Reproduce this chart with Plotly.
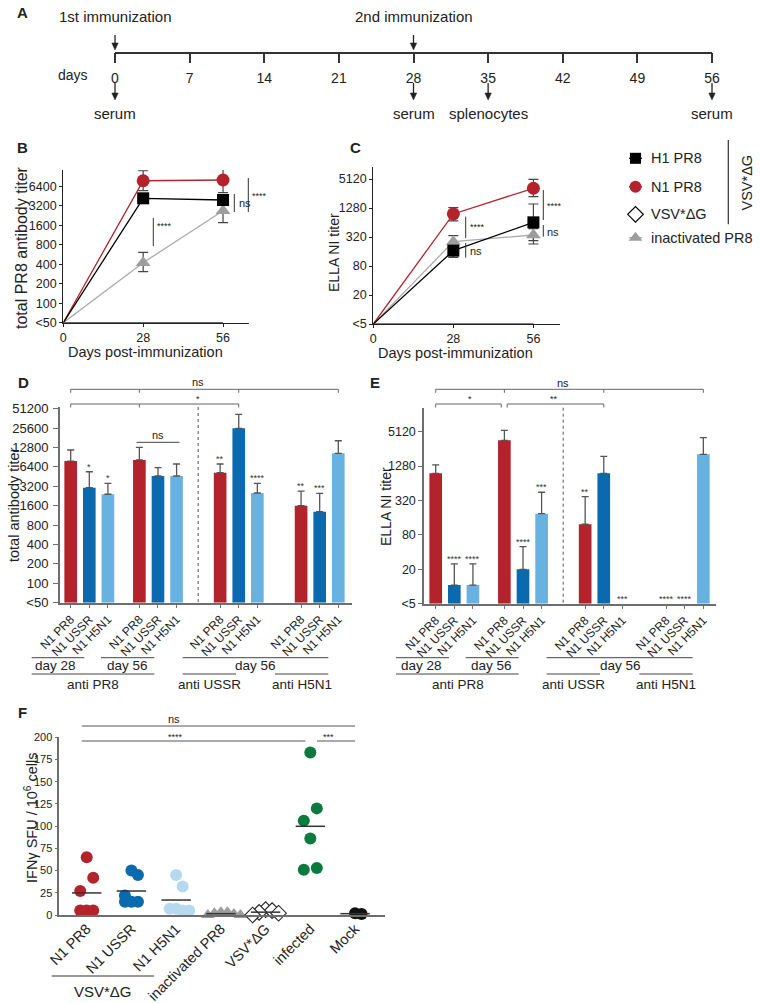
import numpy as np
import plotly.graph_objects as go

W, H = 760, 1003
FONT = "Liberation Sans, Arial, Helvetica, sans-serif"


def px(x):
    return x / W


def py(y):
    return 1 - y / H


RED = "#B2232B"
BLUE = "#0B6AAE"
LBLUE = "#68B2E2"
PALE = "#B8D8F0"
GREEN = "#0B7A3E"
GREY = "#9D9D9D"
INK = "#222222"
AXG = "#6E6E6E"
SIG = "#4A4A4A"

# ======================= DATA =======================
# A: timeline
timeline_days = [0, 7, 14, 21, 28, 35, 42, 49, 56]
immunization_days = [0, 28]
immunization_labels = ["1st immunization", "2nd immunization"]
sample_days = [0, 28, 35, 56]
sample_labels = ["serum", "serum", "splenocytes", "serum"]

# B / C: kinetics
days = [0, 28, 56]
series_names = ["H1 PR8", "N1 PR8", "VSV*ΔG", "inactivated PR8"]

b_h1 = [50, 4160, 3920]
b_n1 = [50, 7770, 7970]
b_vsv = [50, 50, 50]
b_inact = [50, 422, 2680]
b_h1_hi = [None, None, None]
b_h1_lo = [None, None, None]
b_n1_hi = [None, 11080, 12500]
b_n1_lo = [None, 5450, 5080]
b_vsv_hi = [None, None, None]
b_vsv_lo = [None, None, None]
b_inact_hi = [None, 611, 4100]
b_inact_lo = [None, 307, 1750]
b_ticks = [50, 100, 200, 400, 800, 1600, 3200, 6400]
b_tick_text = ["<50", "100", "200", "400", "800", "1600", "3200", "6400"]

c_h1 = [5, 167, 645]
c_n1 = [5, 963, 3290]
c_vsv = [5, 5, 5]
c_inact = [5, 256, 352]
c_h1_hi = [None, 230, 1550]
c_h1_lo = [None, 121, 270]
c_n1_hi = [None, 1300, 5050]
c_n1_lo = [None, 695, 2200]
c_vsv_hi = [None, None, None]
c_vsv_lo = [None, None, None]
c_inact_hi = [None, 341, 480]
c_inact_lo = [None, 190, 229]
c_ticks = [5, 20, 80, 320, 1280, 5120]
c_tick_text = ["<5", "20", "80", "320", "1280", "5120"]

# D / E: bar panels (4 groups x 3 antigens)
antigens = ["N1 PR8", "N1 USSR", "N1 H5N1"]
day_labels = ["day 28", "day 56", "day 56"]
target_labels = ["anti PR8", "anti USSR", "anti H5N1"]

d_pr8 = [7880, 8200, 5200, 1600]
d_ussr = [3050, 4620, 25400, 1290]
d_h5n1 = [2410, 4620, 2520, 10400]
d_pr8_err = [11700, 12900, 7100, 2700]
d_ussr_err = [5380, 6220, 41900, 2490]
d_h5n1_err = [3560, 7100, 3560, 16300]
d_pr8_sig = ["", "", "**", "**"]
d_ussr_sig = ["*", "", "", "***"]
d_h5n1_sig = ["*", "", "****", ""]
d_ticks = [50, 100, 200, 400, 800, 1600, 3200, 6400, 12800, 25600, 51200]
d_tick_text = ["<50", "100", "200", "400", "800", "1600", "3200", "6400",
               "12800", "25600", "51200"]

e_pr8 = [957, 3620, 123, 5]
e_ussr = [10.6, 20, 957, 5]
e_h5n1 = [10.6, 188, 5, 2060]
e_pr8_err = [1340, 5410, 373, None]
e_ussr_err = [24.8, 49.7, 1900, None]
e_h5n1_err = [24.8, 446, None, 4020]
e_pr8_sig = ["", "", "**", "****"]
e_ussr_sig = ["****", "****", "", "****"]
e_h5n1_sig = ["****", "***", "***", ""]
e_ticks = [5, 20, 80, 320, 1280, 5120]
e_tick_text = ["<5", "20", "80", "320", "1280", "5120"]

# F: IFNγ ELISpot
f_groups = ["N1 PR8", "N1 USSR", "N1 H5N1", "inactivated PR8", "VSV*ΔG", "infected", "Mock"]
f_n1pr8 = [65, 42, 27, 5, 5, 5]
f_n1ussr = [50, 45, 22, 15, 15, 15]
f_n1h5n1 = [45, 32, 7, 5, 5, 7]
f_inact = [3, 3, 2, 1, 0, 0]
f_vsv = [6, 5, 3, 2, 0]
f_infected = [183, 120, 106, 86, 53, 51]
f_mock = [1, 2]
f_ticks = [0, 25, 50, 75, 100, 125, 150, 175, 200]

# ======================= FIGURE =======================
fig = go.Figure()

A_X0, A_X1 = 115, 712          # page pixels of day 0 / day 56 on the timeline


def day_px(d):
    return A_X0 + d * (A_X1 - A_X0) / 56.0


def add_line(x0, y0, x1, y1, xref="paper", yref="paper", color=SIG, width=1, dash=None):
    fig.add_shape(type="line", x0=x0, y0=y0, x1=x1, y1=y1, xref=xref, yref=yref,
                  line=dict(color=color, width=width, dash=dash))


def add_text(text, x, y, size=13, xref="paper", yref="paper", xanchor="center",
             yanchor="middle", angle=0, bold=False, color=INK, yshift=0):
    if bold:
        text = "<b>%s</b>" % text
    fig.add_annotation(text=text, x=x, y=y, xref=xref, yref=yref, xanchor=xanchor,
                       yanchor=yanchor, textangle=angle, showarrow=False, yshift=yshift,
                       font=dict(size=size, color=color, family=FONT))


def add_arrow(day, y_tail, y_head):
    """vertical arrow on panel A: line + filled head"""
    xp = day_px(day)
    add_line(px(xp), py(y_tail), px(xp), py(y_head - 5), color="#222222", width=1.3)
    fig.add_shape(type="path", xref="paper", yref="paper",
                  path="M %f %f L %f %f L %f %f Z" % (px(xp - 3.2), py(y_head - 7), px(xp + 3.2),
                                                      py(y_head - 7), px(xp), py(y_head)),
                  fillcolor="#222222", line=dict(color="#222222", width=0.5))


def add_err(xa, ya, xs, v, hi, lo, color="#444444", width=5, thick=1.2):
    idx = [i for i in range(len(xs)) if hi[i] is not None or lo[i] is not None]
    if not idx:
        return
    up = [(hi[i] - v[i]) if hi[i] is not None else 0 for i in idx]
    dn = [(v[i] - lo[i]) if lo[i] is not None else 0 for i in idx]
    fig.add_trace(go.Scatter(
        x=[xs[i] for i in idx], y=[v[i] for i in idx], mode="markers",
        marker=dict(size=1, opacity=0), cliponaxis=False, hoverinfo="skip",
        error_y=dict(type="data", symmetric=False, array=up, arrayminus=dn,
                     color=color, thickness=thick, width=width),
        xaxis=xa, yaxis=ya, showlegend=False))


styles = {
    "H1 PR8": dict(marker=dict(symbol="square", size=12, color="black"),
                   line=dict(color="black", width=1.3)),
    "N1 PR8": dict(marker=dict(symbol="circle", size=13, color=RED),
                   line=dict(color=RED, width=1.3)),
    "VSV*ΔG": dict(marker=dict(symbol="diamond", size=13, color="white",
                               line=dict(color="black", width=1.2)),
                   line=dict(color="black", width=1.0)),
    "inactivated PR8": dict(marker=dict(symbol="triangle-up", size=13, color=GREY),
                            line=dict(color="#ABABAB", width=1.3)),
}

# ---------- B and C ----------
panel_bc = [
    ("x2", "y2", {"H1 PR8": (b_h1, b_h1_hi, b_h1_lo), "N1 PR8": (b_n1, b_n1_hi, b_n1_lo),
                  "VSV*ΔG": (b_vsv, b_vsv_hi, b_vsv_lo),
                  "inactivated PR8": (b_inact, b_inact_hi, b_inact_lo)}),
    ("x3", "y3", {"H1 PR8": (c_h1, c_h1_hi, c_h1_lo), "N1 PR8": (c_n1, c_n1_hi, c_n1_lo),
                  "VSV*ΔG": (c_vsv, c_vsv_hi, c_vsv_lo),
                  "inactivated PR8": (c_inact, c_inact_hi, c_inact_lo)}),
]
draw_order = ["VSV*ΔG", "inactivated PR8", "N1 PR8", "H1 PR8"]
for xa, ya, d in panel_bc:
    for name in draw_order:
        v, hi, lo = d[name]
        add_err(xa, ya, days, v, hi, lo)
    for name in draw_order:
        v, hi, lo = d[name]
        st = styles[name]
        fig.add_trace(go.Scatter(x=days, y=v, mode="lines+markers", name=name,
                                 marker=st["marker"], line=st["line"], cliponaxis=False,
                                 xaxis=xa, yaxis=ya, showlegend=False))

# ---------- D and E ----------
group_slots = [0.0, 3.69, 8.03, 12.38]
bar_colors = [RED, BLUE, LBLUE]


def pos(g, i):
    return group_slots[g] + i


panel_de = [
    ("x4", "y4", 50, [d_pr8, d_ussr, d_h5n1], [d_pr8_err, d_ussr_err, d_h5n1_err],
     [d_pr8_sig, d_ussr_sig, d_h5n1_sig]),
    ("x5", "y5", 5, [e_pr8, e_ussr, e_h5n1], [e_pr8_err, e_ussr_err, e_h5n1_err],
     [e_pr8_sig, e_ussr_sig, e_h5n1_sig]),
]
for xa, ya, base, vals, errs, sigs in panel_de:
    for i, name in enumerate(antigens):
        xs = [pos(g, i) for g in range(4)]
        fig.add_trace(go.Bar(x=xs, y=[v - base for v in vals[i]], base=base, width=0.68,
                             marker=dict(color=bar_colors[i], line=dict(width=0)),
                             name=name, xaxis=xa, yaxis=ya, showlegend=False))
    for i in range(3):
        xs = [pos(g, i) for g in range(4)]
        add_err(xa, ya, xs, vals[i], errs[i], [None] * 4, color="#555555", width=3.5, thick=1.3)
    for i in range(3):
        for g in range(4):
            if sigs[i][g]:
                top = errs[i][g] if errs[i][g] is not None else vals[i][g]
                add_text(sigs[i][g], pos(g, i), np.log10(top), size=9, xref=xa, yref=ya,
                         yanchor="bottom", color="#333333", yshift=-2)

# ---------- F ----------
f_values = [f_n1pr8, f_n1ussr, f_n1h5n1, f_inact, f_vsv, f_infected, f_mock]
f_marker = [
    dict(symbol="circle", color=RED, size=12),
    dict(symbol="circle", color=BLUE, size=12),
    dict(symbol="circle", color=PALE, size=12),
    dict(symbol="triangle-up", color=GREY, size=12),
    dict(symbol="diamond", color="white", size=12, line=dict(color="#222222", width=1.1)),
    dict(symbol="circle", color=GREEN, size=12),
    dict(symbol="circle", color="#111111", size=12),
]
F_YPX = (915 - 737.3) / 200.0   # px per unit
F_XPX = 44.7                    # px per category


def swarm(vals, step=6.5, dmin=6.0):
    order = sorted(range(len(vals)), key=lambda k: -vals[k])
    pattern = [0, 1, -1]
    cands_all = [0, 1, -1, 2, -2, 3, -3, 4, -4]
    placed, offs = [], [0.0] * len(vals)
    for r, k in enumerate(order):
        pref = pattern[r % 3]
        yo = vals[k] * F_YPX
        chosen = pref
        for c in [pref] + [c for c in cands_all if c != pref]:
            xo = c * step
            if all((xo - a) ** 2 + (yo - b) ** 2 >= dmin ** 2 for a, b in placed):
                chosen = c
                break
        placed.append((chosen * step, yo))
        offs[k] = chosen * step / F_XPX
    return offs


for gi, vals in enumerate(f_values):
    offs = swarm(vals)
    fig.add_trace(go.Scatter(x=[gi + o for o in offs], y=vals, mode="markers",
                             marker=f_marker[gi], cliponaxis=False, name=f_groups[gi],
                             xaxis="x6", yaxis="y6", showlegend=False))
fig.add_trace(go.Scatter(x=list(range(len(f_values))), y=[float(np.mean(v)) for v in f_values],
                         mode="markers", cliponaxis=False, hoverinfo="skip",
                         marker=dict(symbol="line-ew", size=21, line=dict(color="#333333", width=1.5)),
                         xaxis="x6", yaxis="y6", showlegend=False))

# ---------- Legend (manual, on a page-pixel helper axis) ----------
legend_rows = [158.3, 186.7, 214.3, 237.7]
for name, ry in zip(series_names, legend_rows):
    st = styles[name]
    fig.add_trace(go.Scatter(x=[629, 642], y=[ry, ry], mode="lines",
                             line=dict(color=st["line"]["color"], width=1.3),
                             xaxis="x7", yaxis="y7", showlegend=False, hoverinfo="skip",
                             cliponaxis=False))
    mk = dict(st["marker"])
    mk["size"] = mk["size"] - 1
    fig.add_trace(go.Scatter(x=[635.5], y=[ry], mode="markers", marker=mk,
                             xaxis="x7", yaxis="y7", showlegend=False, hoverinfo="skip",
                             cliponaxis=False))
    add_text(name, px(649), py(ry), size=14.5, xanchor="left")
add_line(px(728.3), py(140), px(728.3), py(224.3), color="#333333", width=1.2)
add_text("VSV*ΔG", px(747), py(182.5), size=14.5, angle=-90)

# ======================= AXES =======================


def axis(**kw):
    d = dict(showgrid=False, zeroline=False, showline=True, linecolor=INK, linewidth=1.3,
             ticks="outside", ticklen=3, tickwidth=1.2, tickcolor=INK, automargin=False,
             tickfont=dict(size=12.5, color=INK, family=FONT), fixedrange=True)
    d.update(kw)
    return d


def hidden(**kw):
    d = dict(visible=False, fixedrange=True, automargin=False, showgrid=False, zeroline=False)
    d.update(kw)
    return d


lay = dict(
    xaxis=axis(domain=[px(A_X0), px(A_X1)], range=[0, 56], anchor="y", tickvals=timeline_days,
               ticklen=10, tickwidth=1.5, linewidth=1.5, linecolor="#333333", tickcolor="#333333",
               tickfont=dict(size=14, family=FONT, color=INK), ticklabelstandoff=3),
    yaxis=hidden(domain=[py(51.7), py(40)], range=[0, 1], anchor="x"),

    xaxis2=axis(domain=[px(63.3), px(249)], range=[0, 65.1], anchor="y2", tickvals=days),
    yaxis2=axis(domain=[py(322.7), py(170)], type="log",
                range=[np.log10(50), np.log10(50 * 2 ** 7.83)], anchor="x2",
                tickvals=b_ticks, ticktext=b_tick_text),

    xaxis3=axis(domain=[px(373.3), px(560)], range=[0, 65.3], anchor="y3", tickvals=days),
    yaxis3=axis(domain=[py(324), py(166.7)], type="log",
                range=[np.log10(5), np.log10(5 * 2 ** 10.85)], anchor="x3",
                tickvals=c_ticks, ticktext=c_tick_text),

    xaxis4=axis(domain=[px(60), px(351.7)], range=[-0.575, 15.1], anchor="y4",
                tickvals=[pos(g, i) for g in range(4) for i in range(3)],
                ticktext=antigens * 4, tickangle=-45, linecolor=AXG, linewidth=2,
                tickcolor=AXG, tickfont=dict(size=12, family=FONT, color=INK)),
    yaxis4=axis(domain=[py(602.7), py(407)], type="log",
                range=[np.log10(50), np.log10(50 * 2 ** ((602.7 - 407) / 19.4))], anchor="x4",
                tickvals=d_ticks, ticktext=d_tick_text, linecolor=AXG, linewidth=2,
                tickcolor=AXG, ticklen=5, ticklabelstandoff=2,
                tickfont=dict(size=13, family=FONT, color=INK)),

    xaxis5=axis(domain=[px(424.3), px(716)], range=[-0.613, 15.06], anchor="y5",
                tickvals=[pos(g, i) for g in range(4) for i in range(3)],
                ticktext=antigens * 4, tickangle=-45, linecolor=AXG, linewidth=2,
                tickcolor=AXG, tickfont=dict(size=12, family=FONT, color=INK)),
    yaxis5=axis(domain=[py(603.7), py(407.7)], type="log",
                range=[np.log10(5), np.log10(5 * 2 ** ((603.7 - 407.7) / 17.2))], anchor="x5",
                tickvals=e_ticks, ticktext=e_tick_text, linecolor=AXG, linewidth=2,
                tickcolor=AXG, ticklen=4),

    xaxis6=axis(domain=[px(59.3), px(385)], range=[-0.613, 6.67], anchor="y6",
                tickvals=list(range(len(f_groups))), ticktext=f_groups, tickangle=-45,
                ticks="", linecolor=AXG, linewidth=1.5, ticklabelstandoff=-2,
                tickfont=dict(size=14.5, family=FONT, color=INK)),
    yaxis6=axis(domain=[py(915), py(737.3)], range=[0, 200], anchor="x6", tickvals=f_ticks,
                linecolor=AXG, linewidth=1.5, tickcolor=AXG,
                tickfont=dict(size=11, family=FONT, color=INK)),

    xaxis7=hidden(domain=[px(620), px(650)], range=[620, 650], anchor="y7"),
    yaxis7=hidden(domain=[py(250), py(145)], range=[250, 145], anchor="x7"),
)
fig.update_layout(**lay)

# ======================= DECORATIONS =======================
# Panel letters
for letter, x, y in [("A", 22, 12), ("B", 22, 148), ("C", 355, 148), ("D", 23, 382),
                     ("E", 375, 382), ("F", 22, 712)]:
    add_text(letter, px(x), py(y), size=15, bold=True)

# Panel A: arrows and labels
for d, lab in zip(immunization_days, immunization_labels):
    add_arrow(d, 35, 50)
    add_text(lab, d, py(16.7), size=15, xref="x")
for d, lab in zip(sample_days, sample_labels):
    add_arrow(d, 83, 100)
    add_text(lab, d, py(113.3), size=15, xref="x")
add_text("days", px(73), py(75), size=14)

# Axis titles
add_text("total PR8 antibody titer", px(22), py(248), size=16, angle=-90)
add_text("Days post-immunization", px(145), py(352), size=14.5)
add_text("ELLA NI titer", px(334), py(253), size=14, angle=-90)
add_text("Days post-immunization", px(455), py(353), size=14.5)
add_text("total antibody titer", px(14), py(505), size=14.5, angle=-90)
add_text("ELLA NI titer", px(386), py(507), size=14, angle=-90)
add_text("IFNγ SFU / 10<sup>6</sup> cells", px(31), py(818), size=14.5, angle=-90)

# Panel B significance
add_line(px(153.3), py(218), px(153.3), py(246), color="#333333")
add_text("****", px(155), py(226), size=9, xanchor="left")
add_line(px(234.3), py(194), px(234.3), py(212), color="#333333")
add_text("ns", px(236.5), py(203), size=11, xanchor="left")
add_line(px(248.3), py(178), px(248.3), py(212), color="#333333")
add_text("****", px(250), py(196), size=9, xanchor="left")

# Panel C significance
add_line(px(465.7), py(216.7), px(465.7), py(238), color="#333333")
add_text("****", px(467.5), py(227), size=9, xanchor="left")
add_line(px(465.7), py(243), px(465.7), py(257.7), color="#333333")
add_text("ns", px(467.5), py(251), size=11, xanchor="left")
add_line(px(543.3), py(190), px(543.3), py(220), color="#333333")
add_text("****", px(545), py(206), size=9, xanchor="left")
add_line(px(543.3), py(225), px(543.3), py(236.7), color="#333333")
add_text("ns", px(545), py(232), size=11, xanchor="left")

# Panels D/E: dotted separators
for xa in ["x4", "x5"]:
    top = 407 if xa == "x4" else 407.7
    bot = 602.7 if xa == "x4" else 603.7
    add_line(6.85, py(top), 6.85, py(bot), xref=xa, color="#555555", width=1, dash="dot")


def bracket(xa, y, x0, x1, ticks, tick_len=3.5):
    add_line(x0, py(y), x1, py(y), xref=xa, color="#666666", width=1)
    for t in ticks:
        add_line(t, py(y), t, py(y + tick_len), xref=xa, color="#666666", width=1)


# D brackets
bracket("x4", 389.3, pos(0, 0), pos(3, 2), [pos(0, 0), pos(1, 0), pos(2, 1), pos(3, 2)])
add_text("ns", 6.85, py(382), size=11, xref="x4")
bracket("x4", 404, pos(0, 0), pos(2, 1), [pos(0, 0), pos(1, 0), pos(2, 1)])
add_text("*", 6.85, py(399), size=9, xref="x4")
add_line(pos(1, 0) - 0.15, py(442.3), pos(1, 2) + 0.15, py(442.3), xref="x4", color="#444444", width=1)
add_text("ns", pos(1, 1), py(435), size=11, xref="x4")

# E brackets
bracket("x5", 389.3, pos(0, 0), pos(3, 2), [pos(0, 0), pos(1, 0), pos(2, 1), pos(3, 2)])
add_text("ns", 6.85, py(383), size=11, xref="x5")
bracket("x5", 404, pos(0, 0), pos(1, 0) - 0.17, [pos(0, 0), pos(1, 0) - 0.17])
add_text("*", (pos(0, 0) + pos(1, 0)) / 2, py(399), size=9, xref="x5")
bracket("x5", 404, pos(1, 0) + 0.15, pos(2, 1), [pos(1, 0) + 0.15, pos(2, 1)])
add_text("**", (pos(1, 0) + pos(2, 1)) / 2, py(399), size=9, xref="x5")

# D/E group labels below the axes
de_rows = [
    ([(31.7, 84.3), (101, 154.3), (182.7, 328.3)], [56, 127.7, 255],
     [(31.7, 154.3), (182.7, 236), (275, 328.3)], [93.3, 209.3, 301.7]),
    ([(396, 449), (465.7, 518.7), (546.7, 692.7)], [421.7, 491.7, 620],
     [(396, 518.7), (546.7, 600), (639.3, 692.7)], [458.3, 573.3, 666]),
]
for seg1, dc, seg2, tc in de_rows:
    for (a, b) in seg1:
        add_line(px(a), py(657.7), px(b), py(657.7), color="#444444", width=1)
    for (a, b) in seg2:
        add_line(px(a), py(674), px(b), py(674), color="#444444", width=1)
    for lab, c in zip(day_labels, dc):
        add_text(lab, px(c), py(665.5), size=13.5)
    for lab, c in zip(target_labels, tc):
        add_text(lab, px(c), py(684.5), size=13.5)

# F significance lines
add_line(-0.11, py(726), 6.0, py(726), xref="x6", color="#555555", width=1)
add_text("ns", px(174), py(719), size=11)
add_line(-0.11, py(741), 4.89, py(741), xref="x6", color="#555555", width=1)
add_text("****", px(175), py(737), size=9)
add_line(5.15, py(741), 6.0, py(741), xref="x6", color="#555555", width=1)
add_text("***", px(328.3), py(737), size=9)

# F: VSV*ΔG group label
add_line(px(51.7), py(976), px(154), py(976), color="#333333", width=1)
add_text("VSV*ΔG", px(103.3), py(991.5), size=15)

fig.update_layout(width=W, height=H, margin=dict(l=0, r=0, t=0, b=0, pad=0),
                  paper_bgcolor="white", plot_bgcolor="rgba(0,0,0,0)", barmode="overlay",
                  font=dict(family=FONT, color=INK), showlegend=False)

fig.write_html("out.html", config={"displayModeBar": False},
               post_script="document.body.style.margin='0px';"
                           "document.documentElement.style.overflow='hidden';")
